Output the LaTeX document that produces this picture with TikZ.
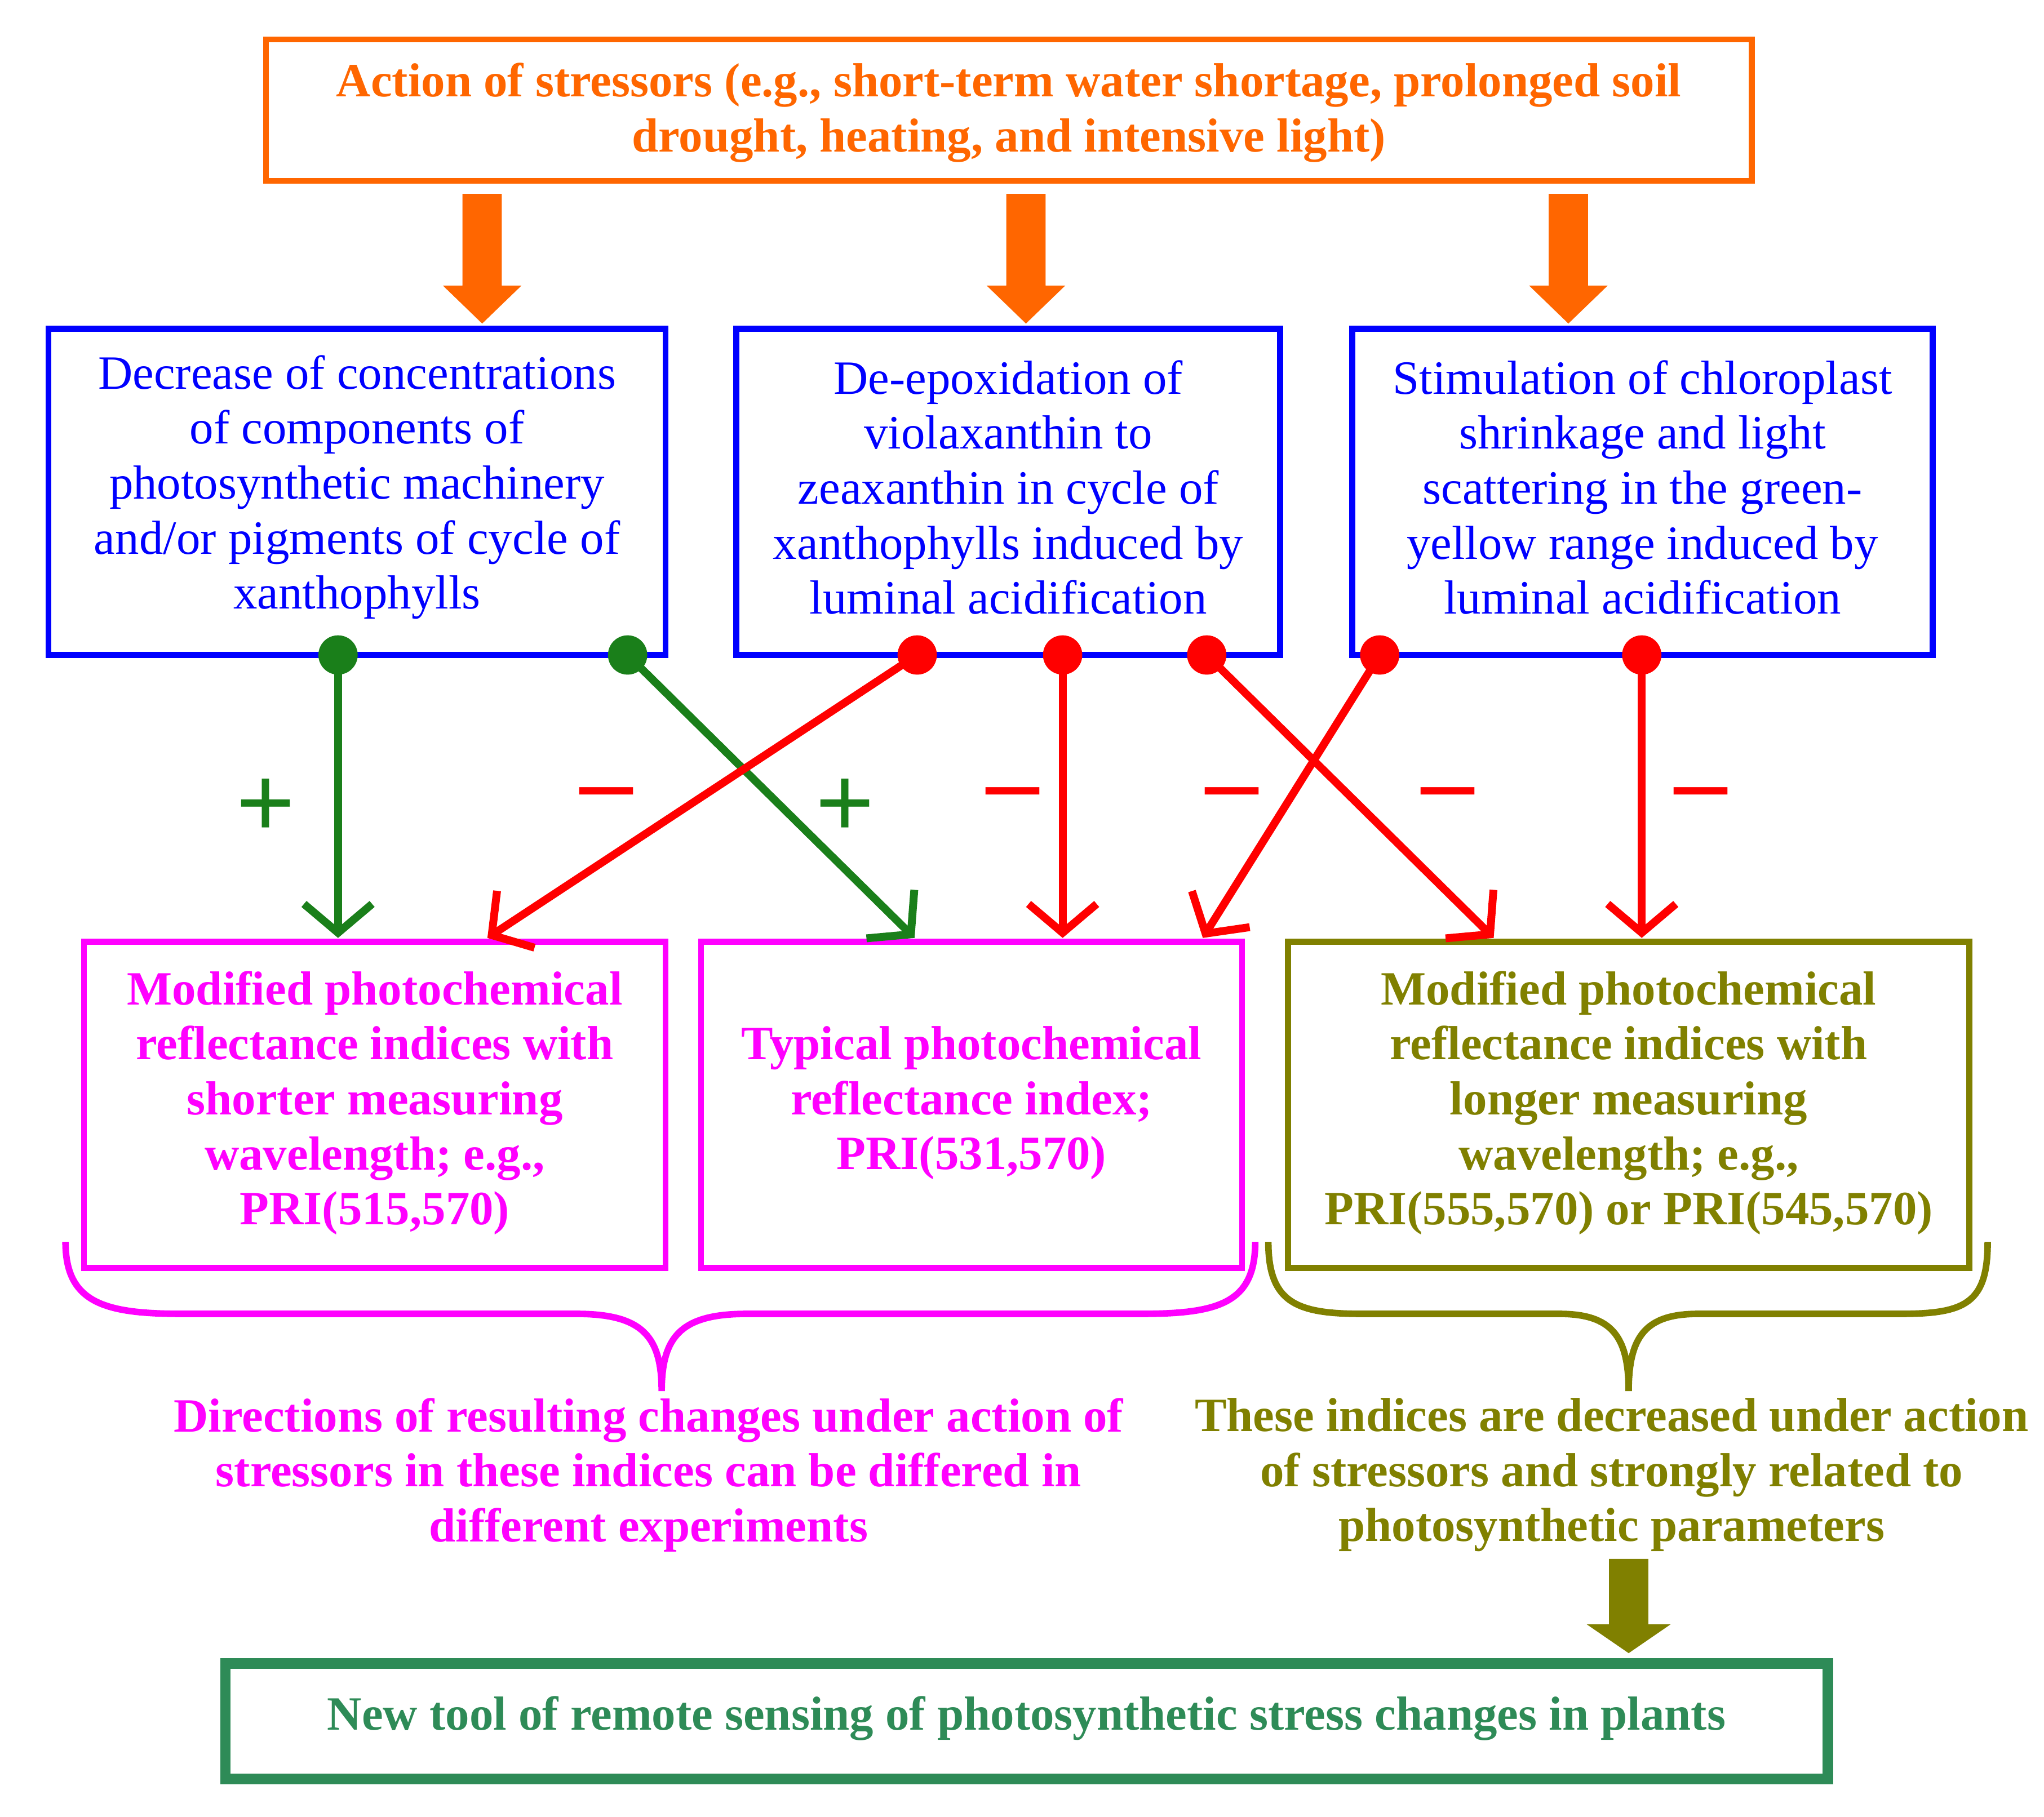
\documentclass[tikz,border=0pt]{standalone}
\usepackage{fontspec}
\setmainfont{Liberation Serif}
\usetikzlibrary{arrows.meta}
\definecolor{cOr}{HTML}{FF6600}
\definecolor{cBl}{HTML}{0000FF}
\definecolor{cMg}{HTML}{FF00FF}
\definecolor{cOl}{HTML}{808000}
\definecolor{cGb}{HTML}{2E8B57}
\definecolor{cGa}{HTML}{1A7F1A}
\definecolor{cRd}{HTML}{FF0000}
\begin{document}
\begin{tikzpicture}[x=1pt,y=-1pt,
  txt/.style={font=\rmfamily\fontsize{36.5}{42}\selectfont,align=center},
  btxt/.style={font=\rmfamily\fontsize{36.5}{42}\selectfont\bfseries,align=center},
  box/.style={draw,line width=4.5pt,inner sep=0pt},
  con/.style={line width=6pt,-{Straight Barb[length=22pt,width=52pt]}},
  dot/.style={circle,fill,inner sep=0pt,minimum size=30pt},
  sgn/.style={font=\rmfamily\bfseries\fontsize{80}{80}\selectfont}]
\useasboundingbox (0,0) rectangle (1560,1387);
% top
\node[box,draw=cOr,minimum width=1134pt,minimum height=108pt] (top) at (770,84) {};
\node[btxt,text=cOr] at (770,86) {Action of stressors (e.g., short-term water shortage, prolonged soil\\drought, heating, and intensive light)};
% orange fat arrows
\foreach \x in {368,783,1197}{
  \fill[cOr] (\x-15,148) -- (\x+15,148) -- (\x+15,218) -- (\x+30,218) -- (\x,247) -- (\x-30,218) -- (\x-15,218) -- cycle;}
% blue boxes
\node[box,draw=cBl,minimum width=471pt,minimum height=249pt] (b1) at (272.5,375.5) {};
\node[txt,text=cBl] at (272.5,372) {Decrease of concentrations\\of components of\\photosynthetic machinery\\and/or pigments of cycle of\\xanthophylls};
\node[box,draw=cBl,minimum width=415pt,minimum height=249pt] (b2) at (769.5,375.5) {};
\node[txt,text=cBl] at (769.5,372) {De-epoxidation of\\violaxanthin to\\zeaxanthin in cycle of\\xanthophylls induced by\\luminal acidification};
\node[box,draw=cBl,minimum width=443pt,minimum height=249pt] (b3) at (1253.5,375.5) {};
\node[txt,text=cBl] at (1253.5,372) {Stimulation of chloroplast\\shrinkage and light\\scattering in the green-\\yellow range induced by\\luminal acidification};
% bottom boxes
\node[box,draw=cMg,minimum width=444pt,minimum height=249pt] (m1) at (286,843.5) {};
\node[btxt,text=cMg] at (286,842) {Modified photochemical\\reflectance indices with\\shorter measuring\\wavelength; e.g.,\\PRI(515,570)};
\node[box,draw=cMg,minimum width=413pt,minimum height=249pt] (m2) at (741.5,843.5) {};
\node[btxt,text=cMg] at (741.5,842) {Typical photochemical\\reflectance index;\\PRI(531,570)};
\node[box,draw=cOl,minimum width=520pt,minimum height=249pt] (o1) at (1243,843.5) {};
\node[btxt,text=cOl] at (1243,842) {Modified photochemical\\reflectance indices with\\longer measuring\\wavelength; e.g.,\\PRI(555,570) or PRI(545,570)};
% dots and connectors
\coordinate (g1) at (258,500); \coordinate (g2) at (479,500);
\coordinate (r1) at (700,500); \coordinate (r2) at (811,500); \coordinate (r3) at (921,500);
\coordinate (r4) at (1053,500); \coordinate (r5) at (1253,500);
\coordinate (tg1) at (258,716); \coordinate (tg2) at (698,716);
\coordinate (tr1) at (372,716); \coordinate (tr2) at (811,716); \coordinate (tr3) at (1140,716);
\coordinate (tr4) at (918,716); \coordinate (tr5) at (1253,716);
\draw[con,cGa] (g1) -- (tg1);
\draw[con,cGa] (g2) -- (tg2);
\foreach \a/\b in {r1/tr1,r2/tr2,r3/tr3,r4/tr4,r5/tr5}{\draw[con,cRd] (\a) -- (\b);}
\foreach \a in {g1,g2}{\node[dot,cGa] at (\a) {};}
\foreach \a in {r1,r2,r3,r4,r5}{\node[dot,cRd] at (\a) {};}
% signs
\node[sgn,text=cGa] at (203,617) {+};
\node[sgn,text=cGa] at (645,617) {+};
\foreach \x in {463,773,940,1105,1298}{\node[sgn,text=cRd] at (\x,612) {\textendash};}
% braces
\draw[cMg,line width=5pt] (50,948) .. controls (50,995) and (80,1003) .. (140,1003) -- (440,1003) .. controls (490,1003) and (505,1020) .. (505,1062)
  .. controls (505,1020) and (520,1003) .. (570,1003) -- (870,1003) .. controls (930,1003) and (958,995) .. (958,948);
\draw[cOl,line width=5pt] (968,948) .. controls (968,995) and (990,1003) .. (1040,1003) -- (1190,1003) .. controls (1230,1003) and (1243,1020) .. (1243,1062)
  .. controls (1243,1020) and (1256,1003) .. (1296,1003) -- (1450,1003) .. controls (1500,1003) and (1517,995) .. (1517,948);
% bottom texts
\node[btxt,text=cMg] (tm) at (495,1126) {Directions of resulting changes under action of\\stressors in these indices can be differed in\\different experiments};
\node[btxt,text=cOl] (to) at (1230,1126) {These indices are decreased under action\\of stressors and strongly related to\\photosynthetic parameters};
% olive arrow
\fill[cOl] (1228,1190) -- (1258,1190) -- (1258,1240) -- (1275,1240) -- (1243,1262) -- (1211,1240) -- (1228,1240) -- cycle;
% final box
\node[box,draw=cGb,line width=8pt,minimum width=1223pt,minimum height=88pt] (fin) at (783.5,1314) {};
\node[btxt,text=cGb] at (783.5,1312) {New tool of remote sensing of photosynthetic stress changes in plants};
\end{tikzpicture}
\end{document}
